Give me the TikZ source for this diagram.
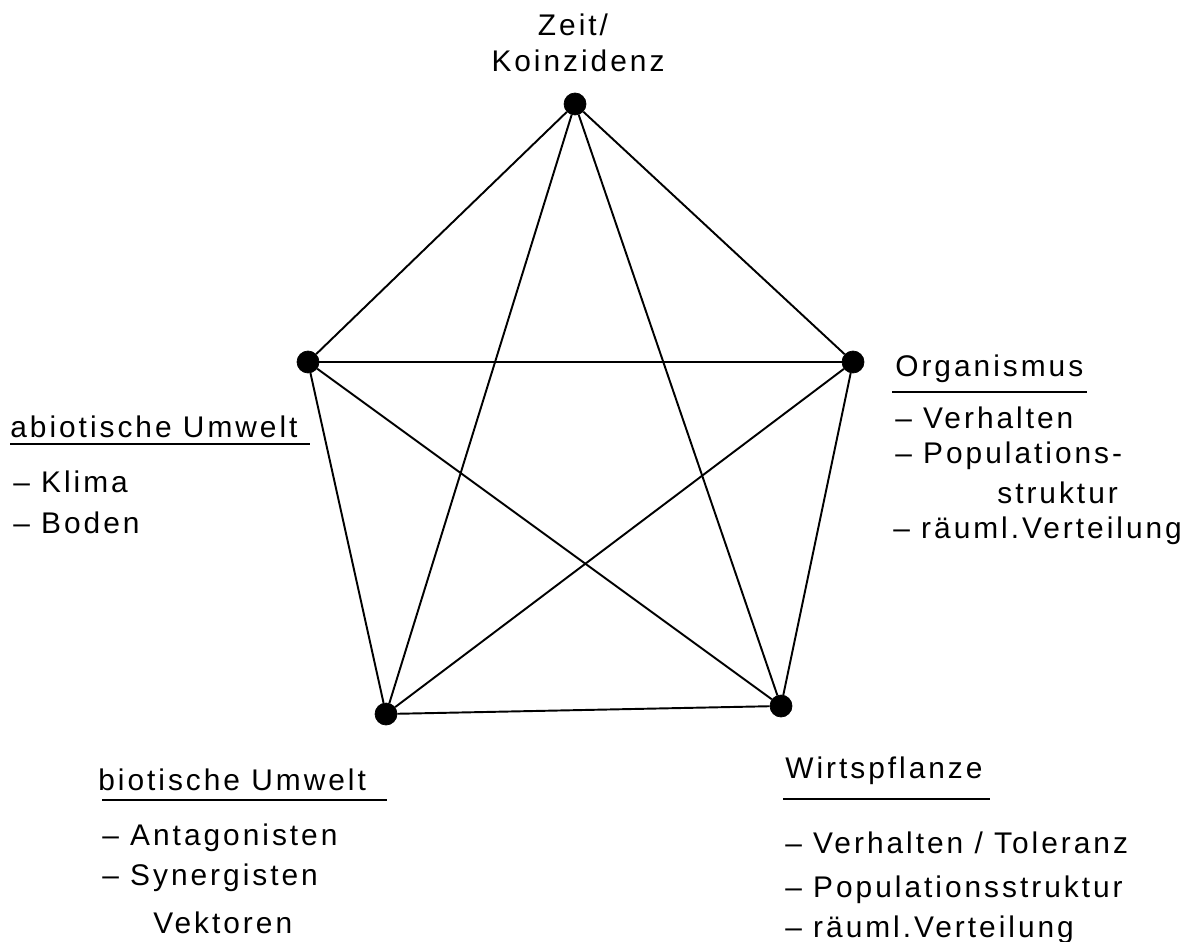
\documentclass[tikz,border=0pt]{standalone}
\usepackage{fontspec}
\setmainfont{Liberation Sans}[LetterSpace=10]
\usepackage{tikz}

\begin{document}
\begin{tikzpicture}[x=0.02cm,y=-0.02cm]
                \newcommand{\dotsize}{0.44cm}
                \tikzset{
                    dot/.style={circle, draw, fill=black, minimum size=\dotsize, inner sep=0},
                    txt/.style={anchor=base west, inner sep=0, font=\fontsize{17}{20}\selectfont},
                    edge/.style={line width=1.1pt}
                }
                \useasboundingbox (0,0) rectangle (1193,942);

                % Draw black nodes
                \node[dot] (zeit) at (575,104) {};
                \node[dot] (abio) at (308,362) {};
                \node[dot] (orga) at (853,362) {};
                \node[dot] (bio) at (386,714) {};
                \node[dot] (wirt) at (781,706) {};

                % Draw edges
                \foreach \a/\b in {zeit/abio,zeit/orga,zeit/bio,zeit/wirt,abio/orga,abio/bio,abio/wirt,orga/bio,orga/wirt,bio/wirt} {
                    \draw[edge] (\a) -- (\b);
                }

                % Draw labels
                \node[txt, anchor=base] (zeitA) at (573,36) {Zeit/};
                \node[txt, anchor=base] (zeitB) at (578,72) {Koinzidenz};

                \node[txt] (orgaA) at (895,377) {Organismus};
                \node[txt] (orgaB) at (895,428) {-- Verhalten};
                \node[txt] (orgaC) at (895,463) {-- Populations-};
                \node[txt] (orgaD) at (997,503) {struktur};
                \node[txt] (orgaE) at (893,538) {-- räuml.Verteilung};
                \draw[edge] (892,392) -- (1087,392);

                \node[txt] (abioA) at (10,437) {abiotische Umwelt};
                \node[txt] (abioB) at (13,492) {-- Klima};
                \node[txt] (abioC) at (13,533) {-- Boden};
                \draw[edge] (10,444) -- (310,444);

                \node[txt] (bioA) at (98,790) {biotische Umwelt};
                \node[txt] (bioB) at (102,845) {-- Antagonisten};
                \node[txt] (bioC) at (102,885) {-- Synergisten};
                \node[txt] (bioD) at (153,933) {Vektoren};
                \draw[edge] (102,800) -- (387,800);

                \node[txt] (wirtA) at (785,778) {Wirtspflanze};
                \node[txt] (wirtB) at (785,853) {-- Verhalten / Toleranz};
                \node[txt] (wirtC) at (785,897) {-- Populationsstruktur};
                \node[txt] (wirtD) at (785,937) {-- räuml.Verteilung};
                \draw[edge] (783,799) -- (990,799);
            \end{tikzpicture}
\end{document}
